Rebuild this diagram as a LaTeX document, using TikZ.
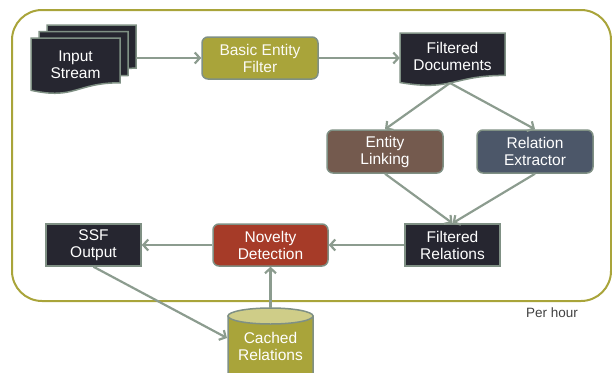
\documentclass[tikz,border=0pt]{standalone}
\usepackage{fontspec}
\setmainfont{Liberation Sans}
\usetikzlibrary{arrows.meta,shapes.geometric}
\definecolor{olive}{HTML}{A9A43A}
\definecolor{olivelight}{HTML}{CFCD88}
\definecolor{darkbox}{HTML}{262630}
\definecolor{brownbox}{HTML}{745A4E}
\definecolor{slatebox}{HTML}{4C5769}
\definecolor{redbox}{HTML}{A63B28}
\definecolor{edge}{HTML}{7F9084}
\definecolor{conn}{HTML}{8C9C8F}
\tikzset{
  boxtext/.style={text=white, font=\fontsize{15.5}{17}\selectfont, align=center},
  roundbox/.style={boxtext, rectangle, rounded corners=6pt, draw=edge, line width=1.5pt, inner sep=0pt},
  sqbox/.style={boxtext, rectangle, fill=darkbox, draw=edge, line width=1.5pt, inner sep=0pt},
  docshape/.style={fill=darkbox, draw=edge, line width=1.5pt},
  conn/.style={draw=conn, line width=2.2pt, -{Straight Barb[length=5pt,width=11pt]}},
}
\newcommand\mydoc[4]{%
  \filldraw[docshape] (#1,#2) -- ({#1+#3},#2) -- ({#1+#3},{#2+0.8*#4})
    .. controls ({#1+0.5*#3},{#2+0.8*#4}) and ({#1+0.5*#3},{#2+1.107*#4}) .. (#1,{#2+0.934*#4}) -- cycle;}
\begin{document}
\begin{tikzpicture}[x=1pt,y=-1pt]
\useasboundingbox (0,0) rectangle (612,372);
\clip (0,0) rectangle (612,372);
% frame
\draw[olive, line width=2pt, rounded corners=30pt] (12,10) rectangle (611,301);
\node[text=black!75, font=\fontsize{13.5}{16}\selectfont, anchor=center] (perhour) at (552,313) {Per hour};
% input stream (multi-document)
\mydoc{47}{25}{89}{54}
\mydoc{39}{31.5}{89}{55}
\mydoc{31}{38}{89}{56}
\node[boxtext, minimum width=89pt, minimum height=50pt] (in) at (75.5,65) {Input\\Stream};
\coordinate (inout) at (136,58);
% basic entity filter
\node[roundbox, fill=olive, text=white!95!olive, minimum width=116pt, minimum height=42pt] (bef) at (260,58) {Basic Entity\\Filter};
% filtered documents
\mydoc{400}{33}{105}{53}
\node[boxtext, minimum width=105pt, minimum height=46pt] (fd) at (452.5,56.5) {Filtered\\Documents};
\coordinate (fdout) at (450,83);
% entity linking / relation extractor
\node[roundbox, fill=brownbox, minimum width=116pt, minimum height=43pt] (el) at (385,151.5) {Entity\\Linking};
\node[roundbox, fill=slatebox, minimum width=116pt, minimum height=43pt] (re) at (535,151.5) {Relation\\Extractor};
% filtered relations
\node[sqbox, minimum width=95pt, minimum height=42pt] (fr) at (452.5,245) {Filtered\\Relations};
% novelty detection
\node[roundbox, fill=redbox, minimum width=115pt, minimum height=42pt] (nd) at (270.5,245) {Novelty\\Detection};
% ssf output
\node[sqbox, minimum width=95pt, minimum height=42pt] (ssf) at (93.5,245) {SSF\\Output};
% cached relations cylinder
\fill[olive, draw=edge, line width=1.5pt] (228,316) -- (228,385) arc[start angle=180,end angle=360,x radius=42.5pt,y radius=-8pt] -- (313,316) -- cycle;
\filldraw[fill=olivelight, draw=edge, line width=1.5pt] (270.5,316) ellipse[x radius=42.5pt, y radius=8pt];
\node[boxtext, minimum width=85pt, minimum height=40pt] (cr) at (270.5,346) {Cached\\Relations};
\coordinate (crtop) at (270.5,308);
\coordinate (crwest) at (227,338);
% connectors
\draw[conn] (inout) -- (bef.west);
\draw[conn] (bef.east) -- (fd.west |- bef.east);
\draw[conn] (fdout) -- (el.north);
\draw[conn] (fdout) -- (re.north);
\draw[conn] (el.south) -- (fr.north);
\draw[conn] (re.south) -- (fr.north);
\draw[conn] (fr.west) -- (nd.east);
\draw[conn] (nd.west) -- (ssf.east);
\draw[conn] (crtop) -- (nd.south);
\draw[conn] (ssf.south) -- (crwest);
\end{tikzpicture}
\end{document}
